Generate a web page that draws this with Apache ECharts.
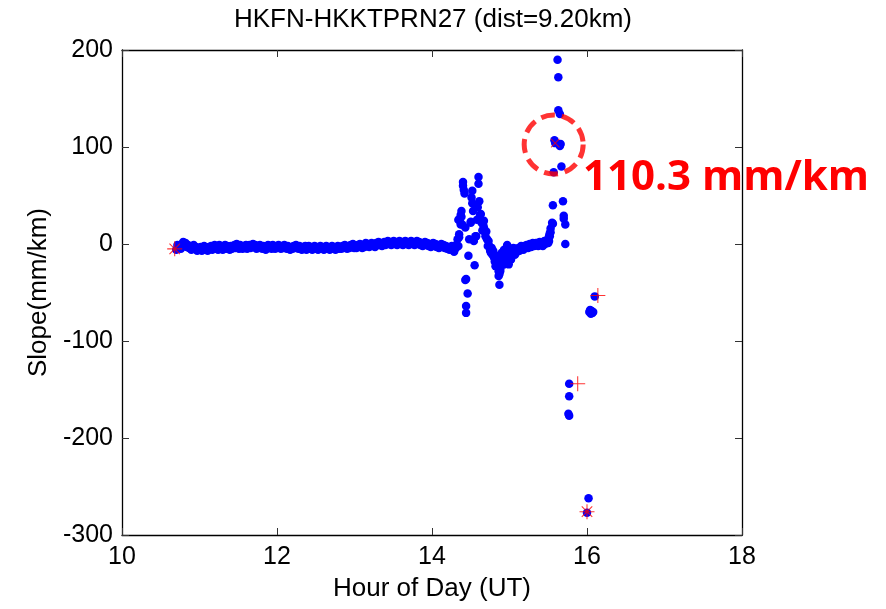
<!DOCTYPE html>
<html>
<head>
<meta charset="utf-8">
<script src="https://cdn.jsdelivr.net/npm/echarts@6/dist/echarts.min.js"></script>
<style>html,body{margin:0;padding:0;background:#fff;}#c{width:886px;height:609px;}</style>
</head>
<body>
<div id="c"></div>
<script>
var titleText = 'HKFN-HKKTPRN27 (dist=9.20km)';
var xName = 'Hour of Day (UT)';
var yName = 'Slope(mm/km)';
var annotationText = '110.3 mm/km';
var annotationPoint = [15.57, 102.6];

// quiet baseline (hour, slope)
var baseline = [
[10.700,-6],[10.715,-1],[10.730,-4],[10.745,-2],[10.760,-5],[10.775,0],[10.790,2],[10.805,-1],[10.820,1],[10.835,-3],
[10.850,-1],[10.865,-4],[10.880,-2],[10.895,-6],[10.910,-3],[10.925,-1],[10.940,-5],[10.955,-3],[10.970,-7],[10.985,-4],
[11.000,-6],[11.015,-3],[11.030,-7],[11.045,-4],[11.060,-2],[11.075,-6],[11.090,-4],[11.105,-7],[11.120,-3],[11.135,-5],
[11.150,-2],[11.165,-6],[11.180,-4],[11.195,-1],[11.210,-5],[11.225,-3],[11.240,-6],[11.255,-1],[11.270,-4],[11.285,-2],
[11.300,-6],[11.315,-3],[11.330,-1],[11.345,-5],[11.360,-2],[11.375,-4],[11.390,-6],[11.405,-2],[11.420,-5],[11.435,-3],
[11.450,-1],[11.465,-4],[11.480,0],[11.495,-3],[11.510,-5],[11.525,-1],[11.540,-3],[11.555,-5],[11.570,-2],[11.585,-4],
[11.600,-1],[11.615,-5],[11.630,-3],[11.645,-1],[11.660,-4],[11.675,-2],[11.690,0],[11.705,-3],[11.720,-1],[11.735,-5],
[11.750,-2],[11.765,-4],[11.780,-1],[11.795,-3],[11.810,-5],[11.825,-2],[11.840,-4],[11.855,-6],[11.870,-3],[11.885,-1],
[11.900,-4],[11.915,-2],[11.930,-5],[11.945,-1],[11.960,-3],[11.975,-5],[11.990,-2],[12.005,-4],[12.020,-1],[12.035,-3],
[12.050,-5],[12.065,-2],[12.080,-4],[12.095,-1],[12.110,-3],[12.125,-5],[12.140,-2],[12.155,-4],[12.170,-6],[12.185,-3],
[12.200,-5],[12.215,-2],[12.230,-4],[12.245,-1],[12.260,-3],[12.275,-5],[12.290,-2],[12.305,-4],[12.320,-6],[12.335,-3],
[12.350,-5],[12.365,-2],[12.380,-6],[12.395,-4],[12.410,-2],[12.425,-5],[12.440,-3],[12.455,-6],[12.470,-4],[12.485,-2],
[12.500,-5],[12.515,-3],[12.530,-6],[12.545,-4],[12.560,-2],[12.575,-5],[12.590,-3],[12.605,-6],[12.620,-4],[12.635,-2],
[12.650,-5],[12.665,-3],[12.680,-6],[12.695,-4],[12.710,-2],[12.725,-5],[12.740,-3],[12.755,-6],[12.770,-4],[12.785,-2],
[12.800,-5],[12.815,-3],[12.830,-5],[12.845,-2],[12.860,-4],[12.875,-1],[12.890,-3],[12.905,-5],[12.920,-2],[12.935,-4],
[12.950,-1],[12.965,-3],[12.980,0],[12.995,-4],[13.010,-2],[13.025,-4],[13.040,-1],[13.055,-3],[13.070,0],[13.085,-2],
[13.100,-4],[13.115,-1],[13.130,-3],[13.145,1],[13.160,-2],[13.175,0],[13.190,-3],[13.205,-1],[13.220,1],[13.235,-2],
[13.250,0],[13.265,-3],[13.280,1],[13.295,-1],[13.310,2],[13.325,-1],[13.340,1],[13.355,-2],[13.370,0],[13.385,2],
[13.400,-1],[13.415,1],[13.430,3],[13.445,0],[13.460,2],[13.475,-1],[13.490,1],[13.505,3],[13.520,0],[13.535,2],
[13.550,-1],[13.565,1],[13.580,3],[13.595,0],[13.610,2],[13.625,-1],[13.640,1],[13.655,3],[13.670,0],[13.685,2],
[13.700,-1],[13.715,1],[13.730,3],[13.745,0],[13.760,2],[13.775,-1],[13.790,1],[13.805,3],[13.820,0],[13.835,2],
[13.850,-1],[13.865,1],[13.880,-2],[13.895,0],[13.910,2],[13.925,-1],[13.940,1],[13.955,-2],[13.970,0],[13.985,-3],
[14.000,-1],[14.015,1],[14.030,-2],[14.045,0],[14.060,-3],[14.075,-1],[14.090,-4],[14.105,-2],[14.120,0],[14.135,-3],
[14.150,-1],[14.165,-4],[14.180,-2],[14.195,-5],[14.210,-3],[14.225,-6],[14.240,-4],[14.255,-2],[14.270,-6],[14.285,-8],
[14.300,-5]
];

// disturbed interval
var disturbed = [
[14.31,-1],[14.32,-3],[14.33,5],[14.34,-2],[14.34,25],[14.35,7],[14.35,10],[14.36,24],[14.37,20],[14.37,30],
[14.38,34],[14.38,28],[14.39,20],[14.40,64],[14.40,60],[14.41,56],[14.42,52],[14.43,17],[14.43,-37],[14.44,-64],
[14.44,-71],[14.44,-36],[14.46,-51],[14.47,-12],[14.48,5],[14.50,22],[14.50,23],[14.51,48],[14.52,55],[14.52,42],
[14.53,34],[14.54,3],[14.55,-22],[14.56,8],[14.57,8],[14.58,25],[14.59,38],[14.60,69],[14.60,62],[14.61,44],
[14.62,30],[14.63,31],[14.64,22],[14.65,14],[14.66,20],[14.67,24],[14.67,17],[14.68,13],[14.69,8],[14.70,13],
[14.71,5],[14.72,-2],[14.73,3],[14.74,-2],[14.75,-7],[14.76,-9],[14.77,-4],[14.78,-11],[14.79,-7],[14.80,-11],
[14.80,-14],[14.81,-18],[14.82,-23],[14.83,-18],[14.83,-12],[14.84,-18],[14.84,-21],[14.85,-14],[14.86,-19],[14.86,-28],
[14.86,-33],[14.87,-42],[14.87,-31],[14.88,-26],[14.88,-28],[14.88,-20],[14.89,-15],[14.90,-9],[14.90,-22],[14.91,-11],
[14.91,-18],[14.92,-13],[14.93,-21],[14.93,-6],[14.94,-8],[14.95,-14],[14.95,-16],[14.96,-10],[14.96,-19],[14.97,-2],
[14.97,-1],[14.98,-7],[14.99,-12],[14.99,-21],[15.00,-14],[15.00,-5],[15.01,-11],[15.01,-7],[15.02,-10],[15.02,-16],
[15.03,-12],[15.04,-8],[15.05,-9],[15.05,-4],[15.06,-6],[15.07,-11],[15.08,-9],[15.09,-5],[15.10,-8],[15.11,-6],
[15.12,-4],[15.13,-7],[15.14,-5],[15.15,-2],[15.16,-4],[15.17,-3],[15.18,-6],[15.19,-2],[15.20,-4],[15.21,-3],
[15.22,-1],[15.23,-2],[15.24,-4],[15.25,-2],[15.26,0],[15.27,-1],[15.28,-3],[15.29,-2],[15.30,1],[15.31,0],
[15.32,-2],[15.33,-1],[15.34,1],[15.35,0],[15.36,1],[15.37,-2],[15.38,0],[15.39,2],[15.40,-1],[15.41,1],
[15.42,0],[15.43,-2],[15.44,1],[15.45,3],[15.46,0],[15.47,2],[15.48,1],[15.49,3],[15.50,5],[15.50,1],
[15.51,3],[15.51,8],[15.52,8],[15.52,11],[15.53,12],[15.53,16],[15.55,22],[15.56,21],[15.56,40],[15.57,74],
[15.58,107],[15.59,104],[15.62,190],[15.63,172],[15.63,138],[15.65,134],[15.65,101],[15.66,103],[15.67,80],[15.69,44],
[15.70,29],[15.70,26],[15.72,20],[15.72,0]
];

// late outliers
var late = [
[15.77,-144],[15.77,-157],[15.76,-175],[15.77,-177],
[16.00,-277],[16.02,-262],
[16.03,-70],[16.04,-68],[16.05,-72],[16.06,-69],[16.07,-71],[16.08,-70],[16.10,-54]
];

// red markers
var plusMarks = [[15.88,-144],[16.14,-53]];
var crossMarks = [[15.59,104]];
var starMarks = [[10.68,-5],[16.00,-276]];

var FONT = '"Liberation Sans", Arial, sans-serif';
var plusPath = 'path://M0,9.3H20V10.7H0Z M9.3,0H10.7V20H9.3Z';
var starPath = 'path://M0,9.3H20V10.7H0Z M9.3,0H10.7V20H9.3Z M3.5,2.5L17.5,16.5L16.5,17.5L2.5,3.5Z M16.5,2.5L17.5,3.5L3.5,17.5L2.5,16.5Z';

var chart = echarts.init(document.getElementById('c'), null, {renderer: 'canvas'});
var axisCommon = {
  axisLine: {show: true, onZero: false, lineStyle: {color: '#000', width: 1.3}},
  axisTick: {show: true, inside: true, length: 7, lineStyle: {color: '#333', width: 1}},
  splitLine: {show: false}
};
chart.setOption({
  backgroundColor: '#fff',
  animation: false,
  title: {
    text: titleText, left: 428, top: 2, textAlign: 'center',
    textStyle: {fontFamily: FONT, fontSize: 26, fontWeight: 'normal', color: '#000'}
  },
  grid: {left: 122, right: 144, top: 50, bottom: 74, containLabel: false},
  xAxis: [
    Object.assign({
      type: 'value', min: 10, max: 18, interval: 2, position: 'bottom',
      name: xName, nameLocation: 'middle', nameGap: 41,
      nameTextStyle: {fontFamily: FONT, fontSize: 26, color: '#000'},
      axisLabel: {fontFamily: FONT, fontSize: 25, color: '#000', margin: 10}
    }, axisCommon),
    Object.assign({
      type: 'value', min: 10, max: 18, interval: 2, position: 'top',
      axisLabel: {show: false}
    }, axisCommon)
  ],
  yAxis: [
    Object.assign({
      type: 'value', min: -300, max: 200, interval: 100, position: 'left',
      name: yName, nameLocation: 'middle', nameGap: 70,
      nameTextStyle: {fontFamily: FONT, fontSize: 26, color: '#000'},
      axisLabel: {fontFamily: FONT, fontSize: 25, color: '#000', margin: 9}
    }, axisCommon),
    Object.assign({
      type: 'value', min: -300, max: 200, interval: 100, position: 'right',
      axisLabel: {show: false}
    }, axisCommon)
  ],
  graphic: [{
    type: 'text', x: 583, y: 178, z: 100,
    style: {text: annotationText, fill: '#ff0000', fontFamily: '"Open Sans", "Noto Sans", sans-serif',
      fontSize: 42, fontWeight: 'bold', verticalAlign: 'middle', align: 'left'}
  }],
  series: [
    {type: 'scatter', data: baseline.concat(disturbed, late), symbol: 'circle', symbolSize: 8.5,
     itemStyle: {color: '#0000ff', opacity: 1}, silent: true, z: 2},
    {type: 'scatter', data: plusMarks, symbol: plusPath, symbolSize: 15,
     itemStyle: {color: '#ff0000'}, silent: true, z: 3},
    {type: 'scatter', data: crossMarks, symbol: plusPath, symbolSize: 12, symbolRotate: 45,
     itemStyle: {color: '#ff0000'}, silent: true, z: 3},
    {type: 'scatter', data: starMarks, symbol: starPath, symbolSize: 15,
     itemStyle: {color: '#ff0000'}, silent: true, z: 3},
    {type: 'scatter', data: [annotationPoint], symbol: 'circle', symbolSize: 59,
     itemStyle: {color: 'rgba(0,0,0,0)', borderColor: '#ff0000', borderWidth: 5, borderType: [14, 7]},
     silent: true, z: 4}
  ]
});
</script>
</body>
</html>
